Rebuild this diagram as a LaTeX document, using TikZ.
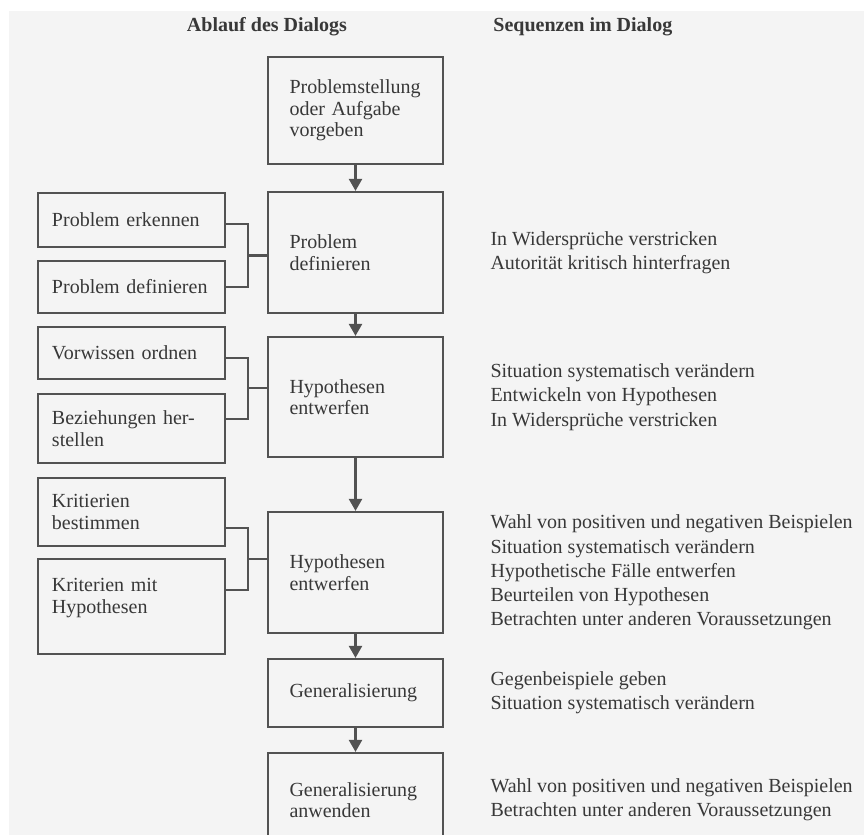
\documentclass[tikz,border=0pt]{standalone}
\usepackage{fontspec}
\setmainfont{Liberation Serif}
\usetikzlibrary{arrows.meta}
\usetikzlibrary{positioning}

\definecolor{scangray}{gray}{0.955}
\definecolor{inkgray}{gray}{0.32}
\definecolor{textgray}{gray}{0.22}

\begin{document}
\begin{tikzpicture}[x=0.5pt, y=-0.5pt,
    stage/.style={draw=inkgray, line width=1.1pt, text=textgray, align=left,
      text width=66pt, inner xsep=10.75pt, inner ysep=0pt, minimum width=87.5pt,
      font=\fontsize{10}{10.75}\selectfont},
    skill/.style={draw=inkgray, line width=1.1pt, text=textgray, align=left,
      text width=79.5pt, inner xsep=7pt, inner ysep=0pt, minimum width=93.5pt,
      font=\fontsize{10}{10.75}\selectfont},
    seq/.style={anchor=west, inner sep=0pt, text=textgray, align=left,
      font=\fontsize{10}{12.1}\selectfont},
    head/.style={inner sep=0pt, text=textgray, font=\fontsize{10}{12}\selectfont\bfseries},
    flow/.style={draw=inkgray, line width=1.1pt, -{Triangle[width=6.5pt,length=6pt]}},
    link/.style={draw=inkgray, line width=1.1pt}]
      \useasboundingbox (0,0) rectangle (864,835);
      \clip (0,0) rectangle (864,835);
      \fill [scangray] (9,11) rectangle (864,835);

      % headings
      \node [head] (ablauf) at (267,27) {Ablauf des Dialogs};
      \node [head, anchor=west] (sequenzen) at (493,27) {Sequenzen im Dialog};

      % main flow
      \node [stage, minimum height=53.5pt] (pstell) at (355.5,110.5) {Problemstellung\\oder Aufgabe\\vorgeben};
      \node [stage, minimum height=60.5pt] (pdef) at (355.5,252.5) {Problem\\definieren};
      \node [stage, minimum height=60pt] (hypA) at (355.5,397) {Hypothesen\\entwerfen};
      \node [stage, minimum height=60.5pt] (hypB) at (355.5,572.5) {Hypothesen\\entwerfen};
      \node [stage, minimum height=34pt] (gen) at (355.5,693) {Generalisierung};
      \node [stage, minimum height=47pt] (genanw) at (355.5,800) {Generalisierung\\anwenden};

      \draw [flow] (pstell) -- (pdef);
      \draw [flow] (pdef) -- (hypA);
      \draw [flow] (hypA) -- (hypB);
      \draw [flow] (hypB) -- (gen);
      \draw [flow] (gen) -- (genanw);

      % left column
      \node [skill, minimum height=27pt] (erkennen) at (131.5,220) {Problem erkennen};
      \node [skill, minimum height=26pt] (definieren) at (131.5,287) {Problem definieren};
      \node [skill, minimum height=26pt] (vorwissen) at (131.5,353) {Vorwissen ordnen};
      \node [skill, minimum height=34.5pt] (beziehung) at (131.5,428.5) {Beziehungen her-\\stellen};
      \node [skill, minimum height=34pt] (kbestimmen) at (131.5,512) {Kritierien\\bestimmen};
      \node [skill, minimum height=47.5pt] (kmit) at (131.5,606.5) {Kriterien mit\\Hypothesen\\\mbox{}};

      \coordinate (jA) at (248,255.5);
      \coordinate (jB) at (248,388);
      \coordinate (jC) at (248,559);
      \draw [link] ([yshift=-2pt]erkennen.east) -| (jA) |- (definieren.east);
      \draw [link] (jA) -- (jA -| pdef.west);
      \draw [link] ([yshift=-2.5pt]vorwissen.east) -| (jB) |- ([yshift=4.75pt]beziehung.east);
      \draw [link] (jB) -- (jB -| hypA.west);
      \draw [link] ([yshift=-8pt]kbestimmen.east) -| (jC) |- ([yshift=8.25pt]kmit.east);
      \draw [link] (jC) -- (jC -| hypB.west);

      % sequences
      \node [seq, right=23pt of pdef] (seqdef) {In Widersprüche verstricken\\Autorität kritisch hinterfragen};
      \node [seq, right=23pt of hypA] (seqhypA) {Situation systematisch verändern\\Entwickeln von Hypothesen\\In Widersprüche verstricken};
      \node [seq, right=23pt of hypB] (seqhypB) {Wahl von positiven und negativen Beispielen\\Situation systematisch verändern\\Hypothetische Fälle entwerfen\\Beurteilen von Hypothesen\\Betrachten unter anderen Voraussetzungen};
      \node [seq, right=23pt of gen] (seqgen) {Gegenbeispiele geben\\Situation systematisch verändern};
      \node [seq, right=23pt of genanw] (seqanw) {Wahl von positiven und negativen Beispielen\\Betrachten unter anderen Voraussetzungen};
\end{tikzpicture}
\end{document}
